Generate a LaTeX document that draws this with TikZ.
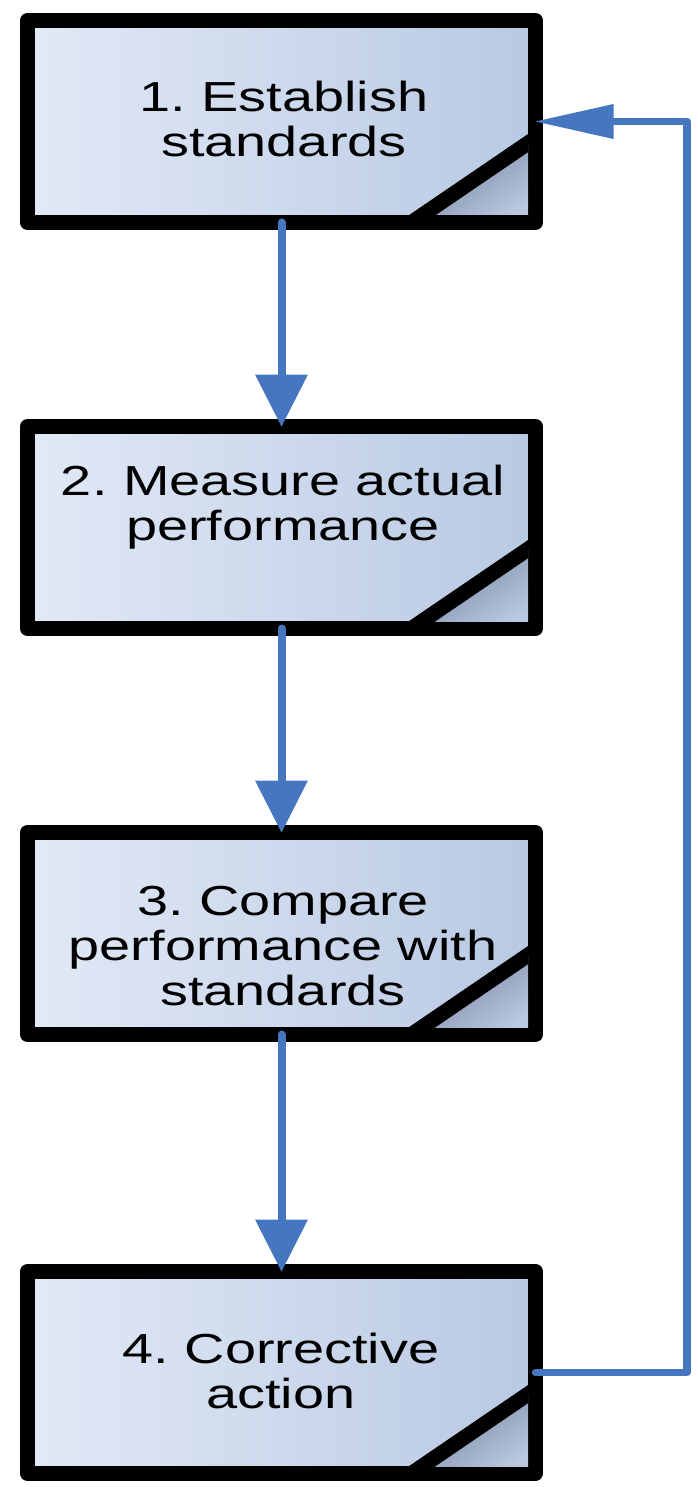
\documentclass[tikz,border=0pt]{standalone}
\usepackage{fontspec}
\setmainfont{Liberation Sans}[FakeStretch=1.33]
\usepackage{xcolor}
\usepackage{tikz}
\usetikzlibrary{arrows.meta,positioning,calc}
\frenchspacing

\definecolor{boxlight}{RGB}{226,233,246}
\definecolor{boxdark}{RGB}{184,201,227}
\definecolor{folddark}{RGB}{112,125,155}
\definecolor{foldlight}{RGB}{186,200,226}
\definecolor{flowblue}{RGB}{71,118,193}

\tikzset{
    stepbox/.style={rectangle, draw=black, line width=15pt, line join=round,
        left color=boxlight, right color=boxdark, outer sep=0pt,
        minimum width=508pt, minimum height=202pt, inner sep=0pt},
    steptext/.style={anchor=base, align=center, inner sep=0pt,
        font=\fontsize{42}{45}\selectfont},
    foldshade/.style={shading=axis, top color=folddark, middle color=folddark,
        bottom color=foldlight, shading angle=34},
    foldline/.style={line width=15pt, black},
    flow/.style={flowblue, line width=8pt, line cap=round,
        -{Triangle[length=52pt,width=53pt,line width=0pt]}},
    feedback/.style={flowblue, line width=7.5pt, line cap=round, line join=round,
        -{Triangle[length=78pt,width=35pt,line width=0pt]}}
}

\begin{document}
\begin{tikzpicture}[x=1pt,y=-1pt]
            \useasboundingbox (0,0) rectangle (697,1487);
            % the four steps
            \node[stepbox] (b1) at (281.5,121.5) {};
            \node[stepbox] (b2) at (281.5,527.5) {};
            \node[stepbox] (b3) at (281.5,933.5) {};
            \node[stepbox] (b4) at (281.5,1372.5) {};
            % folded corner at the bottom right of each box
            \foreach \b in {b1,b2,b3,b4}
            {
                \begin{scope}
                    \clip ([shift={(7.5pt,7.5pt)}]\b.south west) rectangle ([shift={(-7.5pt,-7.5pt)}]\b.north east);
                    \shade[foldshade] ([xshift=-124pt]\b.south east) -- (\b.south east) -- ([yshift=84.5pt]\b.south east) -- cycle;
                    \draw[foldline] ([xshift=-124pt]\b.south east) -- ([yshift=84.5pt]\b.south east);
                \end{scope}
            }
            % texts of the steps (anchored at the last baseline)
            \node[steptext] (t1) at (284,157) {1. Establish\\standards};
            \node[steptext] (t2) at (283,540) {2. Measure actual\\performance};
            \node[steptext] (t3) at (283,1005) {3. Compare\\performance with\\standards};
            \node[steptext] (t4) at (281,1408) {4. Corrective\\action};
            % arrows down from one step to the next
            \draw[flow] (b1.south) -- (b2.north);
            \draw[flow] (b2.south) -- (b3.north);
            \draw[flow] (b3.south) -- (b4.north);
            % arrow back from corrective action to the standards
            \coordinate (back) at (687,0);
            \draw[feedback] (b4.east) -- (b4.east -| back) -- (b1.east -| back) -- (b1.east);
\end{tikzpicture}
\end{document}
